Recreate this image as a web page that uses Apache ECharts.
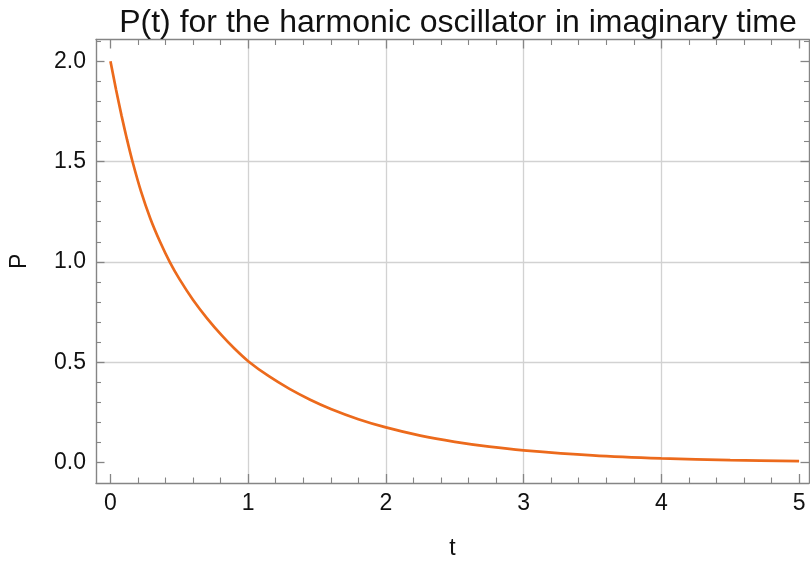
<!DOCTYPE html>
<html>
<head>
<meta charset="utf-8">
<script src="https://cdn.jsdelivr.net/npm/echarts@6/dist/echarts.min.js"></script>
<style>html,body{margin:0;padding:0;background:#fff}#c{width:810px;height:565px}</style>
</head>
<body>
<div id="c"></div>
<script>
// Values
var tValues = [0, 0.04, 0.08, 0.12, 0.16, 0.22, 0.29, 0.36, 0.43, 0.5, 0.6, 0.7, 0.81, 0.9, 1.0, 1.15, 1.3, 1.45, 1.6, 1.8, 2.0, 2.25, 2.5, 2.75, 3.0, 3.5, 4.0, 4.5, 5.0];
var pValues = [2.0, 1.86, 1.73, 1.61, 1.5, 1.355, 1.215, 1.10, 1.0, 0.915, 0.81, 0.72, 0.632, 0.568, 0.505, 0.43, 0.367, 0.313, 0.267, 0.216, 0.175, 0.134, 0.103, 0.079, 0.061, 0.036, 0.021, 0.012, 0.007];
var xMajorTicks = [0, 1, 2, 3, 4, 5];
var xMinorTicks = [0.2, 0.4, 0.6, 0.8, 1.2, 1.4, 1.6, 1.8, 2.2, 2.4, 2.6, 2.8, 3.2, 3.4, 3.6, 3.8, 4.2, 4.4, 4.6, 4.8];
var xGridValues = [1, 2, 3, 4];
var yMajorTicks = [0, 0.5, 1.0, 1.5, 2.0];
var yMinorTicks = [0.1, 0.2, 0.3, 0.4, 0.6, 0.7, 0.8, 0.9, 1.1, 1.2, 1.3, 1.4, 1.6, 1.7, 1.8, 1.9, 2.1];
var yGridValues = [0.5, 1.0, 1.5];
var titleText = 'P(t) for the harmonic oscillator in imaginary time';
var xName = 't';
var yName = 'P';

var FONT = "'Liberation Sans', Arial, sans-serif";
var FRAME = '#858585';
var GRIDC = '#d2d2d2';
var xMin = -0.105, xMax = 5.072, yMin = -0.102, yMax = 2.108;

function xAx(opts) {
  var base = {
    type: 'value', min: xMin, max: xMax, gridIndex: 0,
    axisLine: {show: false, onZero: false}, axisTick: {show: false}, axisLabel: {show: false},
    splitLine: {show: false}
  };
  return Object.assign(base, opts);
}
function yAx(opts) {
  var base = {
    type: 'value', min: yMin, max: yMax, gridIndex: 0,
    axisLine: {show: false, onZero: false}, axisTick: {show: false}, axisLabel: {show: false},
    splitLine: {show: false}
  };
  return Object.assign(base, opts);
}
var frameLine = {show: true, onZero: false, lineStyle: {color: FRAME, width: 1.4}};
var hiddenLine = {show: false, onZero: false};

var data = tValues.map(function (t, i) { return [t, pValues[i]]; });

var chart = echarts.init(document.getElementById('c'), null, {renderer: 'canvas'});
chart.setOption({
  animation: false,
  backgroundColor: '#fff',
  title: {
    text: titleText, left: 453, top: 2, textAlign: 'center',
    textStyle: {fontFamily: FONT, fontSize: 32, fontWeight: 'normal', color: '#111'}
  },
  grid: {left: 95, top: 39.5, width: 714, height: 443.5, containLabel: false},
  xAxis: [
    xAx({position: 'bottom', axisLine: frameLine,
      axisTick: {show: true, inside: true, length: 9, customValues: xMajorTicks, lineStyle: {color: FRAME, width: 1.3}},
      axisLabel: {show: true, customValues: xMajorTicks, margin: 9, fontFamily: FONT, fontSize: 23, color: '#111',
        formatter: function (v) { return String(Math.round(v)); }},
      name: xName, nameLocation: 'middle', nameGap: 54,
      nameTextStyle: {fontFamily: FONT, fontSize: 23, color: '#111'}}),
    xAx({position: 'bottom', axisLine: hiddenLine,
      axisTick: {show: true, inside: true, length: 5.5, customValues: xMinorTicks, lineStyle: {color: FRAME, width: 1.1}}}),
    xAx({position: 'bottom', axisLine: hiddenLine, axisTick: {show: false, customValues: xGridValues},
      splitLine: {show: true, lineStyle: {color: GRIDC, width: 1.3}}}),
    xAx({position: 'top', axisLine: frameLine,
      axisTick: {show: true, inside: true, length: 9, customValues: xMajorTicks, lineStyle: {color: FRAME, width: 1.3}}}),
    xAx({position: 'top', axisLine: hiddenLine,
      axisTick: {show: true, inside: true, length: 5.5, customValues: xMinorTicks, lineStyle: {color: FRAME, width: 1.1}}})
  ],
  yAxis: [
    yAx({position: 'left', axisLine: frameLine,
      axisTick: {show: true, inside: true, length: 8.5, customValues: yMajorTicks, lineStyle: {color: FRAME, width: 1.3}},
      axisLabel: {show: true, customValues: yMajorTicks, margin: 10, fontFamily: FONT, fontSize: 23, color: '#111',
        formatter: function (v) { return v.toFixed(1); }},
      name: yName, nameLocation: 'middle', nameGap: 65, nameRotate: 90,
      nameTextStyle: {fontFamily: FONT, fontSize: 23, color: '#111'}}),
    yAx({position: 'left', axisLine: hiddenLine,
      axisTick: {show: true, inside: true, length: 5, customValues: yMinorTicks, lineStyle: {color: FRAME, width: 1.1}}}),
    yAx({position: 'left', axisLine: hiddenLine, axisTick: {show: false, customValues: yGridValues},
      splitLine: {show: true, lineStyle: {color: GRIDC, width: 1.3}}}),
    yAx({position: 'right', axisLine: frameLine,
      axisTick: {show: true, inside: true, length: 8.5, customValues: yMajorTicks, lineStyle: {color: FRAME, width: 1.3}}}),
    yAx({position: 'right', axisLine: hiddenLine,
      axisTick: {show: true, inside: true, length: 5, customValues: yMinorTicks, lineStyle: {color: FRAME, width: 1.1}}})
  ],
  series: [{
    type: 'line', xAxisIndex: 0, yAxisIndex: 0, data: data,
    smooth: 0.3, showSymbol: false, symbol: 'none',
    lineStyle: {color: '#ec6a1c', width: 2.7}, z: 5
  }]
});
</script>
</body>
</html>
